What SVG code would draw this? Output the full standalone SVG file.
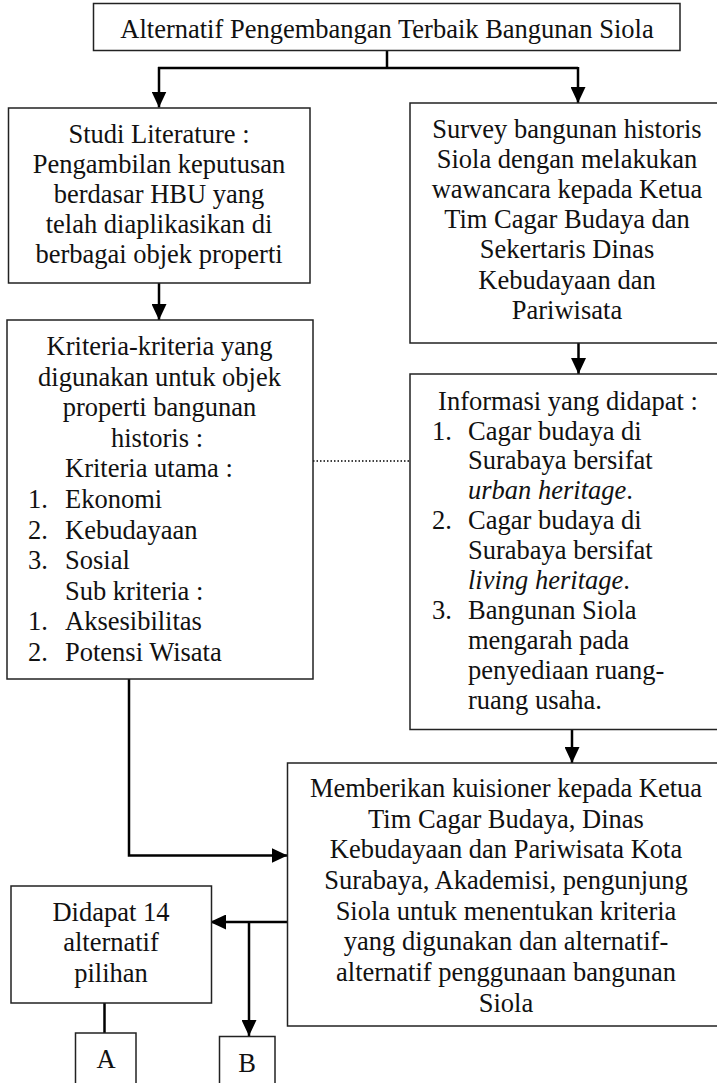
<svg xmlns="http://www.w3.org/2000/svg" width="717" height="1083" viewBox="0 0 717 1083">
<defs>
<style>
.box{fill:#fff;stroke:#222;stroke-width:1.5}
.t{font-family:"Liberation Serif","Times New Roman",serif;font-size:26.5px;fill:#111}
.c{text-anchor:middle}
.i{font-style:italic}
.ln{fill:none;stroke:#000;stroke-width:2.5}
.dot{fill:none;stroke:#000;stroke-width:1.3;stroke-dasharray:1.5 2}
</style>
<marker id="ah" markerWidth="16" markerHeight="15" refX="16" refY="7.5" orient="auto" markerUnits="userSpaceOnUse">
<path d="M0,0 L16,7.5 L0,15 z" fill="#000"/>
</marker>
</defs>
<rect width="717" height="1083" fill="#fff"/>

<g id="connectors">
<path class="ln" d="M387,50.5 V68"/>
<path class="ln" d="M158,68 H578"/>
<path class="ln" d="M159,67 V107.5" marker-end="url(#ah)"/>
<path class="ln" d="M578,67 V103" marker-end="url(#ah)"/>
<path class="ln" d="M159,283 V320" marker-end="url(#ah)"/>
<path class="ln" d="M578.5,343 V374" marker-end="url(#ah)"/>
<path class="dot" d="M313,461 H410"/>
<path class="ln" d="M129,679 V855.5 H287.5" marker-end="url(#ah)"/>
<path class="ln" d="M572,730 V763" marker-end="url(#ah)"/>
<path class="ln" d="M287.5,922 H210" marker-end="url(#ah)"/>
<path class="ln" d="M249,922 V1036" marker-end="url(#ah)"/>
<path class="ln" d="M104.5,1003 V1033"/>
</g>

<g id="n-title">
<rect class="box" x="93.5" y="3.5" width="586.5" height="47"/>
<text class="t c" x="387" y="38">Alternatif Pengembangan Terbaik Bangunan Siola</text>
</g>

<g id="n-studi">
<rect class="box" x="8.5" y="108" width="301.5" height="175"/>
<text class="t c" x="159" y="142.5">Studi Literature :</text>
<text class="t c" x="159" y="172.5">Pengambilan keputusan</text>
<text class="t c" x="159" y="202.5">berdasar HBU yang</text>
<text class="t c" x="159" y="232.5">telah diaplikasikan di</text>
<text class="t c" x="159" y="262.5">berbagai objek properti</text>
</g>

<g id="n-survey">
<rect class="box" x="410" y="103" width="320" height="240"/>
<text class="t c" x="567" y="138">Survey bangunan historis</text>
<text class="t c" x="567" y="168">Siola dengan melakukan</text>
<text class="t c" x="567" y="198">wawancara kepada Ketua</text>
<text class="t c" x="567" y="228">Tim Cagar Budaya dan</text>
<text class="t c" x="567" y="258">Sekertaris Dinas</text>
<text class="t c" x="567" y="289">Kebudayaan dan</text>
<text class="t c" x="567" y="319">Pariwisata</text>
</g>

<g id="n-kriteria">
<rect class="box" x="7" y="320" width="306" height="359"/>
<text class="t c" x="159.5" y="355">Kriteria-kriteria yang</text>
<text class="t c" x="159.5" y="385.6">digunakan untuk objek</text>
<text class="t c" x="159.5" y="416.2">properti bangunan</text>
<text class="t c" x="157" y="446.8">historis :</text>
<text class="t" x="65" y="477.4">Kriteria utama :</text>
<text class="t" x="28" y="508">1.</text><text class="t" x="65" y="508">Ekonomi</text>
<text class="t" x="28" y="538.6">2.</text><text class="t" x="65" y="538.6">Kebudayaan</text>
<text class="t" x="28" y="569.2">3.</text><text class="t" x="65" y="569.2">Sosial</text>
<text class="t" x="65" y="599.8">Sub kriteria :</text>
<text class="t" x="28" y="630.4">1.</text><text class="t" x="65" y="630.4">Aksesibilitas</text>
<text class="t" x="28" y="661">2.</text><text class="t" x="65" y="661">Potensi Wisata</text>
</g>

<g id="n-informasi">
<rect class="box" x="410" y="374" width="320" height="355.5"/>
<text class="t c" x="568" y="410">Informasi yang didapat :</text>
<text class="t" x="432" y="440">1.</text><text class="t" x="468" y="440">Cagar budaya di</text>
<text class="t" x="468" y="469">Surabaya bersifat</text>
<text class="t" x="468" y="499"><tspan class="i">urban heritage</tspan>.</text>
<text class="t" x="432" y="529">2.</text><text class="t" x="468" y="529">Cagar budaya di</text>
<text class="t" x="468" y="559">Surabaya bersifat</text>
<text class="t" x="468" y="589"><tspan class="i">living heritage</tspan>.</text>
<text class="t" x="432" y="619">3.</text><text class="t" x="468" y="619">Bangunan Siola</text>
<text class="t" x="468" y="649">mengarah pada</text>
<text class="t" x="468" y="679">penyediaan ruang-</text>
<text class="t" x="468" y="709">ruang usaha.</text>
</g>

<g id="n-kuisioner">
<rect class="box" x="287.5" y="763" width="440" height="263"/>
<text class="t c" x="506" y="797">Memberikan kuisioner kepada Ketua</text>
<text class="t c" x="506" y="828">Tim Cagar Budaya, Dinas</text>
<text class="t c" x="506" y="858">Kebudayaan dan Pariwisata Kota</text>
<text class="t c" x="506" y="889">Surabaya, Akademisi, pengunjung</text>
<text class="t c" x="506" y="920">Siola untuk menentukan kriteria</text>
<text class="t c" x="506" y="950">yang digunakan dan alternatif-</text>
<text class="t c" x="506" y="981">alternatif penggunaan bangunan</text>
<text class="t c" x="506" y="1012">Siola</text>
</g>

<g id="n-didapat">
<rect class="box" x="11" y="886" width="200.5" height="117"/>
<text class="t c" x="111" y="921">Didapat 14</text>
<text class="t c" x="111" y="951">alternatif</text>
<text class="t c" x="111" y="982">pilihan</text>
</g>

<g id="n-a">
<rect class="box" x="75.5" y="1033" width="60.5" height="60"/>
<text class="t c" x="106" y="1068">A</text>
</g>

<g id="n-b">
<rect class="box" x="219.5" y="1036.5" width="55.5" height="60"/>
<text class="t c" x="247" y="1072">B</text>
</g>
</svg>
